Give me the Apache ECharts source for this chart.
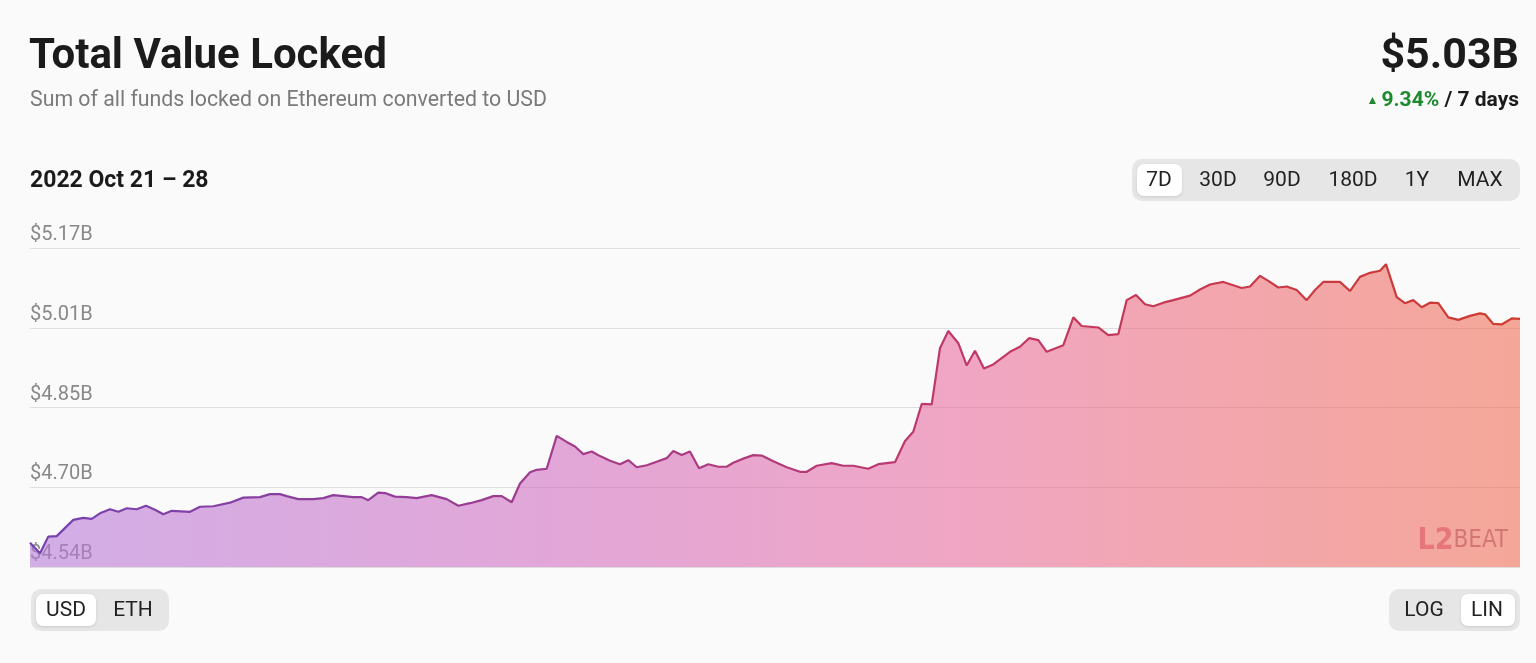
<!DOCTYPE html>
<html><head><meta charset="utf-8">
<script src="https://cdn.jsdelivr.net/npm/echarts@6/dist/echarts.min.js"></script>
<style>html,body{margin:0;padding:0;background:#fafafa;}#c{width:1536px;height:663px;}</style>
</head><body><div id="c"></div>
<script>
// hours since 2022-10-21 00:00 (UTC)
const hours = [0,1.13,2.06,3.01,4.88,6.01,6.96,7.89,9.02,9.96,10.9,12.03,13.08,14.09,15.03,15.98,18.04,19.17,20.67,22.55,24.05,25.93,27.06,28.19,28.94,30.25,31.94,33.07,34.2,35.33,36.45,37.4,38.14,39.27,40.03,41.15,42.47,43.6,45.29,46.98,48.29,49.61,50.93,52.24,53.19,54.31,55.25,56.38,57.13,58.26,59.39,60.51,61.45,62.39,63.33,64.27,65.4,66.52,67.46,68.41,69.54,70.66,71.79,72.53,73.48,74.41,75.43,76.48,77.61,78.55,79.3,80.43,81.55,82.5,83.81,85.32,86.82,87.58,88.7,90.39,91.7,92.83,94.52,95.65,97.53,98.66,99.59,100.54,101.67,102.6,103.54,104.67,105.61,106.55,107.56,108.61,110.5,111.62,112.67,113.69,114.63,116.51,117.64,118.58,120.45,121.58,122.71,123.65,124.7,125.72,126.65,127.78,128.91,130.8,131.92,133.05,134.55,136.62,137.56,138.69,139.62,140.75,141.7,142.82,143.95,144.89,145.82,147.7,148.83,149.96,151.09,152.21,152.89,154.1,155.03,155.97,156.92,157.85,158.79,159.92,161.05,162.36,163.49,164.06,164.99,165.94,167.07,168];
// total value locked, billions USD
const tvl = [4.588,4.567,4.600,4.601,4.633,4.637,4.635,4.646,4.654,4.649,4.656,4.654,4.661,4.653,4.644,4.651,4.649,4.659,4.660,4.667,4.677,4.678,4.684,4.684,4.680,4.674,4.674,4.676,4.682,4.680,4.678,4.678,4.672,4.687,4.686,4.679,4.678,4.676,4.682,4.674,4.661,4.666,4.672,4.680,4.680,4.668,4.705,4.727,4.732,4.734,4.799,4.787,4.778,4.763,4.768,4.759,4.750,4.743,4.751,4.737,4.741,4.748,4.755,4.769,4.761,4.768,4.735,4.743,4.738,4.738,4.746,4.754,4.761,4.760,4.749,4.737,4.728,4.728,4.740,4.745,4.740,4.740,4.734,4.743,4.747,4.789,4.807,4.862,4.861,4.972,5.006,4.982,4.938,4.967,4.932,4.940,4.965,4.975,4.992,4.988,4.965,4.978,5.033,5.016,5.013,4.998,5.000,5.067,5.077,5.059,5.055,5.062,5.067,5.076,5.088,5.098,5.103,5.091,5.094,5.115,5.105,5.092,5.094,5.087,5.067,5.087,5.103,5.103,5.085,5.113,5.121,5.125,5.138,5.073,5.061,5.067,5.053,5.062,5.061,5.033,5.028,5.036,5.041,5.039,5.020,5.019,5.031,5.030];
const yTickLabels = ['$4.54B','$4.70B','$4.85B','$5.01B','$5.17B'];
const yMin = 4.54, yMax = 5.17;
const rangeButtons = ['7D','30D','90D','180D','1Y','MAX'];
const currencyButtons = ['USD','ETH'];
const scaleButtons = ['LOG','LIN'];

const FONT = 'Roboto, "Noto Sans", sans-serif';
const yInterval = (yMax - yMin) / (yTickLabels.length - 1);
const points = hours.map((h, i) => [h, tvl[i]]);

function txt(x, y, text, size, weight, color, align) {
  return { type: 'text', x: x, y: y, silent: true,
    style: { text: text, fontSize: size, fontWeight: weight, fontFamily: FONT, fill: color,
             align: align || 'left', verticalAlign: 'middle' } };
}
function rect(x, y, w, h, r, fill, shadow) {
  const s = { fill: fill };
  if (shadow) { s.shadowBlur = 3; s.shadowColor = 'rgba(0,0,0,0.12)'; s.shadowOffsetY = 1; }
  return { type: 'rect', silent: true, shape: { x: x, y: y, width: w, height: h, r: r }, style: s };
}

const rangeCenters = [1159, 1218, 1282, 1353, 1417, 1480];
const graphics = [
  txt(29, 57, 'Total Value Locked', 42, 'bold', '#1b1b1b'),
  txt(30, 101, 'Sum of all funds locked on Ethereum converted to USD', 21.3, 'normal', '#7a7a7a'),
  txt(30, 181, '2022 Oct 21 \u2013 28', 23, 'bold', '#1b1b1b'),
  txt(1519, 57, '$5.03B', 43, 'bold', '#1b1b1b', 'right'),
  { type: 'text', x: 1519, y: 101, silent: true,
    style: { text: '{a|\u25B2 }{g|9.34%}{b| / 7 days}', align: 'right', verticalAlign: 'middle',
      rich: { a: { fontSize: 12, fill: '#1e8a2e', fontFamily: FONT },
              g: { fontSize: 21, fontWeight: 'bold', fill: '#1e8a2e', fontFamily: FONT },
              b: { fontSize: 21, fontWeight: 'bold', fill: '#1b1b1b', fontFamily: FONT } } } },
  rect(1132, 159, 388, 42, 10, '#e6e6e6'),
  rect(1137, 164, 45, 32, 7, '#ffffff', true),
  rect(31, 589, 138, 42, 10, '#e6e6e6'),
  rect(36, 594, 60, 32, 7, '#ffffff', true),
  rect(1389, 589, 131, 42, 10, '#e6e6e6'),
  rect(1461, 594, 54, 32, 7, '#ffffff', true),
  { type: 'text', x: 1508, y: 541, silent: true, z: 10,
    style: { text: '{a|L2}{b|BEAT}', align: 'right', verticalAlign: 'middle',
      rich: { a: { fontSize: 30, fontWeight: 'bold', fill: 'rgba(214,70,90,0.5)', fontFamily: '"DejaVu Sans Condensed", sans-serif' },
              b: { fontSize: 24, fill: 'rgba(170,60,70,0.45)', fontFamily: '"DejaVu Sans Condensed", sans-serif' } } } }
];
rangeButtons.forEach((t, i) => graphics.push(txt(rangeCenters[i], 181, t, 21, 'normal', '#222', 'center')));
[66, 133].forEach((cx, i) => graphics.push(txt(cx, 611, currencyButtons[i], 21, 'normal', '#222', 'center')));
[1424, 1487].forEach((cx, i) => graphics.push(txt(cx, 611, scaleButtons[i], 21, 'normal', '#222', 'center')));

const chart = echarts.init(document.getElementById('c'), null, { renderer: 'canvas' });
chart.setOption({
  backgroundColor: '#fafafa',
  animation: false,
  grid: { left: 30, right: 16, top: 248, bottom: 96 },
  xAxis: { type: 'value', min: 0, max: 168, show: false },
  yAxis: {
    type: 'value', min: yMin, max: yMax, interval: yInterval,
    axisLine: { show: false }, axisTick: { show: false },
    splitLine: { lineStyle: { color: '#dedede', width: 1 } },
    axisLabel: {
      inside: true, margin: 0, align: 'left', verticalAlign: 'bottom',
      padding: [0, 0, 3, 0], color: '#888888', fontSize: 20, fontFamily: FONT,
      formatter: v => yTickLabels[Math.round((v - yMin) / yInterval)] || ''
    }
  },
  series: [{
    type: 'line', data: points, showSymbol: false, symbol: 'none', smooth: false,
    lineStyle: { width: 2.2,
      color: new echarts.graphic.LinearGradient(0, 0, 1, 0, [
        { offset: 0, color: '#7442b0' }, { offset: 0.35, color: '#a03c8c' },
        { offset: 0.62, color: '#c0386a' }, { offset: 1, color: '#cf3b2c' }]) },
    areaStyle: { origin: 'start', opacity: 1,
      color: new echarts.graphic.LinearGradient(0, 0, 1, 0, [
        { offset: 0, color: 'rgba(183,123,217,0.6)' }, { offset: 0.36, color: 'rgba(210,110,192,0.6)' },
        { offset: 0.62, color: 'rgba(233,110,160,0.6)' }, { offset: 0.8, color: 'rgba(238,110,122,0.6)' },
        { offset: 1, color: 'rgba(240,112,87,0.6)' }]) }
  }],
  graphic: graphics
});
</script></body></html>
